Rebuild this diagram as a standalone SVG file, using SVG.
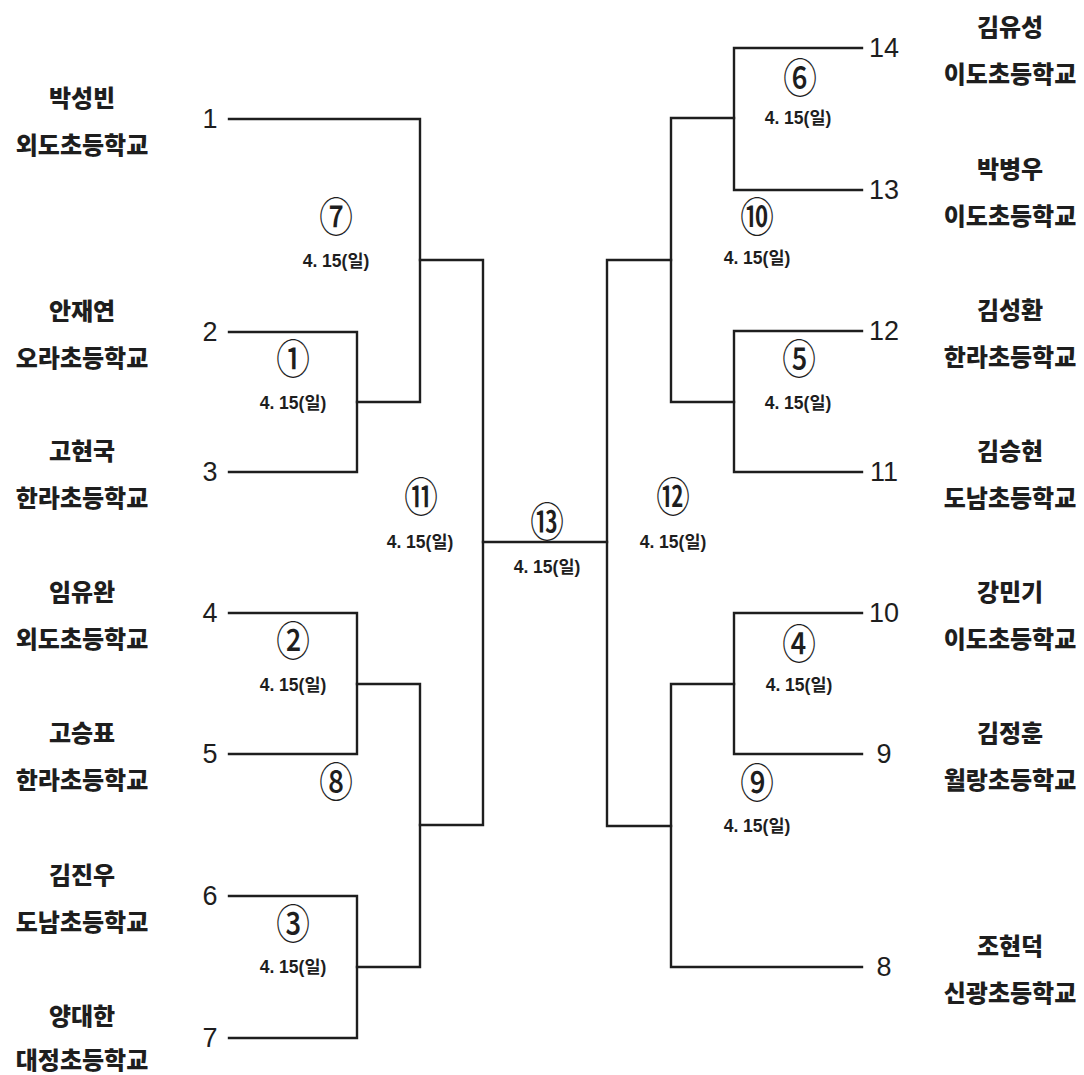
<svg xmlns="http://www.w3.org/2000/svg" width="1084" height="1075" viewBox="0 0 1084 1075">
<style>
.ln{fill:none;stroke:#1e1e1e;stroke-width:2.4;stroke-linecap:square}
.nm{font-family:"Noto Sans CJK KR","Noto Sans",sans-serif;font-weight:900;font-size:24px;fill:#1e1e1e;text-anchor:middle;dominant-baseline:central}
.num{font-family:"Liberation Sans","DejaVu Sans",sans-serif;font-size:27px;fill:#1e1e1e;text-anchor:middle;dominant-baseline:central}
.dt{font-family:"Liberation Sans","Noto Sans CJK KR",sans-serif;font-weight:700;font-size:17.5px;fill:#1e1e1e;text-anchor:middle;dominant-baseline:central}
.cn{font-family:"Noto Sans CJK KR",sans-serif;font-weight:500;font-size:41px;fill:#1e1e1e;text-anchor:middle;dominant-baseline:central}
</style>
<rect width="1084" height="1075" fill="#ffffff"/>
<g id="connectors">
<path class="ln" d="M229,119 H420 V402 H357"/>
<path class="ln" d="M229,332 H357 V472 H229"/>
<path class="ln" d="M229,613 H357 V754 H229"/>
<path class="ln" d="M357,684 H420 V967 H357"/>
<path class="ln" d="M229,896 H357 V1038 H229"/>
<path class="ln" d="M420,260 H483 V825 H420"/>
<path class="ln" d="M483,542 H607"/>
<path class="ln" d="M671,260 H607 V826 H671"/>
<path class="ln" d="M862,48 H734 V190 H862"/>
<path class="ln" d="M734,118 H671 V402 H734"/>
<path class="ln" d="M862,331 H734 V472 H862"/>
<path class="ln" d="M862,613 H734 V754 H862"/>
<path class="ln" d="M734,684 H671 V967 H862"/>
</g>
<g id="p1"><text class="nm" x="82" y="96">박성빈</text><text class="nm" x="82" y="143">외도초등학교</text><text class="num" x="210" y="119">1</text></g>
<g id="p2"><text class="nm" x="82" y="309">안재연</text><text class="nm" x="82" y="356">오라초등학교</text><text class="num" x="210" y="332">2</text></g>
<g id="p3"><text class="nm" x="82" y="449">고현국</text><text class="nm" x="82" y="496">한라초등학교</text><text class="num" x="210" y="472">3</text></g>
<g id="p4"><text class="nm" x="82" y="590">임유완</text><text class="nm" x="82" y="637">외도초등학교</text><text class="num" x="210" y="613">4</text></g>
<g id="p5"><text class="nm" x="82" y="731">고승표</text><text class="nm" x="82" y="778">한라초등학교</text><text class="num" x="210" y="754">5</text></g>
<g id="p6"><text class="nm" x="82" y="873">김진우</text><text class="nm" x="82" y="920">도남초등학교</text><text class="num" x="210" y="896">6</text></g>
<g id="p7"><text class="nm" x="82" y="1014">양대한</text><text class="nm" x="82" y="1058">대정초등학교</text><text class="num" x="210" y="1038">7</text></g>
<g id="p14"><text class="nm" x="1010" y="25">김유성</text><text class="nm" x="1010" y="72">이도초등학교</text><text class="num" x="884" y="48">14</text></g>
<g id="p13"><text class="nm" x="1010" y="167">박병우</text><text class="nm" x="1010" y="214">이도초등학교</text><text class="num" x="884" y="190">13</text></g>
<g id="p12"><text class="nm" x="1010" y="308">김성환</text><text class="nm" x="1010" y="355">한라초등학교</text><text class="num" x="884" y="331">12</text></g>
<g id="p11"><text class="nm" x="1010" y="449">김승현</text><text class="nm" x="1010" y="496">도남초등학교</text><text class="num" x="884" y="472">11</text></g>
<g id="p10"><text class="nm" x="1010" y="590">강민기</text><text class="nm" x="1010" y="637">이도초등학교</text><text class="num" x="884" y="613">10</text></g>
<g id="p9"><text class="nm" x="1010" y="731">김정훈</text><text class="nm" x="1010" y="778">월랑초등학교</text><text class="num" x="884" y="754">9</text></g>
<g id="p8"><text class="nm" x="1010" y="944">조현덕</text><text class="nm" x="1010" y="991">신광초등학교</text><text class="num" x="884" y="967">8</text></g>
<g id="m1"><text class="cn" transform="translate(293,357) scale(0.82,1)">①</text><text class="dt" x="293" y="403">4. 15(일)</text></g>
<g id="m2"><text class="cn" transform="translate(293,639) scale(0.82,1)">②</text><text class="dt" x="293" y="685">4. 15(일)</text></g>
<g id="m3"><text class="cn" transform="translate(293,922) scale(0.82,1)">③</text><text class="dt" x="293" y="967">4. 15(일)</text></g>
<g id="m4"><text class="cn" transform="translate(799,642) scale(0.82,1)">④</text><text class="dt" x="799" y="685">4. 15(일)</text></g>
<g id="m5"><text class="cn" transform="translate(799,357) scale(0.82,1)">⑤</text><text class="dt" x="798" y="403">4. 15(일)</text></g>
<g id="m6"><text class="cn" transform="translate(800,76) scale(0.82,1)">⑥</text><text class="dt" x="798" y="118">4. 15(일)</text></g>
<g id="m7"><text class="cn" transform="translate(336,215) scale(0.82,1)">⑦</text><text class="dt" x="336" y="261">4. 15(일)</text></g>
<g id="m8"><text class="cn" transform="translate(336,780) scale(0.82,1)">⑧</text></g>
<g id="m9"><text class="cn" transform="translate(757,781) scale(0.82,1)">⑨</text><text class="dt" x="757" y="826">4. 15(일)</text></g>
<g id="m10"><text class="cn" transform="translate(757,215) scale(0.82,1)">⑩</text><text class="dt" x="757" y="258">4. 15(일)</text></g>
<g id="m11"><text class="cn" transform="translate(421,495) scale(0.82,1)">⑪</text><text class="dt" x="420" y="542">4. 15(일)</text></g>
<g id="m12"><text class="cn" transform="translate(673,495) scale(0.82,1)">⑫</text><text class="dt" x="673" y="542">4. 15(일)</text></g>
<g id="m13"><text class="cn" transform="translate(547,520) scale(0.82,1)">⑬</text><text class="dt" x="547" y="567">4. 15(일)</text></g>
</svg>
